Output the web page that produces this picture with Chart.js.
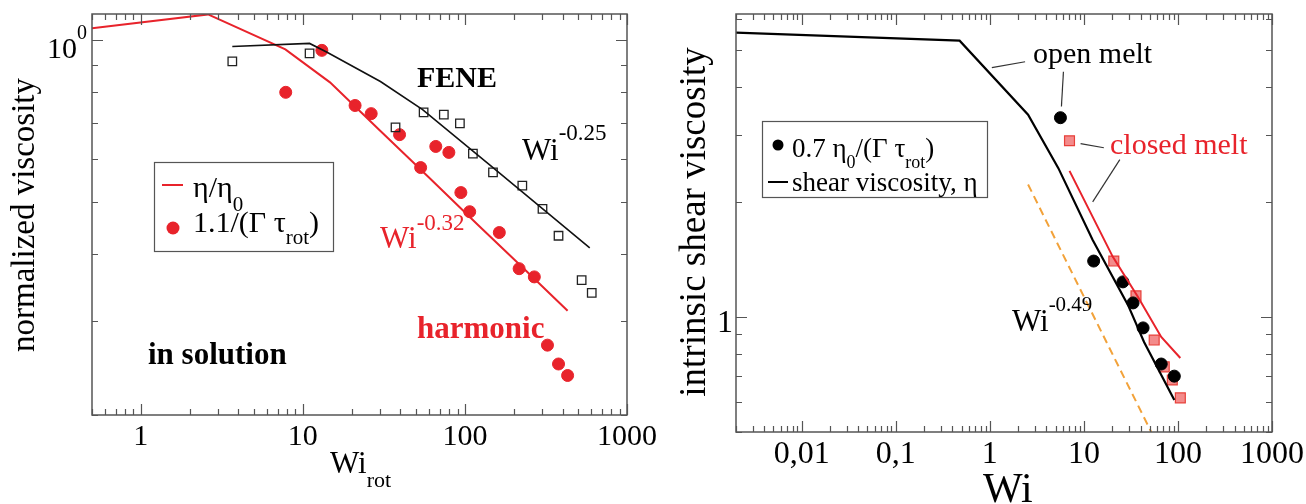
<!DOCTYPE html>
<html>
<head>
<meta charset="utf-8">
<title>viscosity vs Wi</title>
<script src="https://cdn.jsdelivr.net/npm/chart.js@4/dist/chart.umd.min.js"></script>
<style>
  body { margin: 0; background: #fff; }
  canvas { position: absolute; top: 0; }
  #left { left: 0; }
  #right { left: 653px; }
</style>
</head>
<body>
<canvas id="left" width="700" height="504"></canvas>
<canvas id="right" width="653" height="504"></canvas>
<script>
// ---- left panel: polymers in solution ----
const solX = [0.5, 2.6, 7.8, 14.7, 30, 60, 120, 240, 430];
const solEta = [1.053, 1.118, 0.962, 0.835, 0.678, 0.555, 0.453, 0.371, 0.313];

const harmX = [7.84, 13.1, 21.0, 26.4, 39.5, 53.3, 66.1, 79.6, 94.4, 107, 163, 216, 268, 323, 378, 430];
const harmY = [0.80, 0.958, 0.756, 0.730, 0.667, 0.579, 0.634, 0.618, 0.520, 0.479, 0.438, 0.375, 0.362, 0.270, 0.249, 0.237];

const feneX = [3.67, 11.0, 37.3, 55.6, 74.1, 93.1, 112, 149, 226, 301, 378, 525, 606];
const feneY = [0.914, 0.946, 0.688, 0.734, 0.727, 0.700, 0.615, 0.567, 0.536, 0.485, 0.432, 0.357, 0.338];

const feneLineX = [3.67, 11.0, 14.1, 30.1, 54.8, 149, 589];
const feneLineY = [0.974, 0.987, 0.95, 0.838, 0.743, 0.579, 0.410];

const leftXTicks = [1, 10, 100, 1000];
const leftXLabels = ['1', '10', '100', '1000'];

// ---- right panel: melts ----
const meltX = [0.002, 0.477, 2.55, 5.35, 12.4, 29.4, 43.6, 91.5];
const meltEta = [5.54, 5.28, 3.38, 2.45, 1.59, 1.075, 0.86, 0.606];

const openX = [5.63, 12.7, 26.0, 33.3, 42.6, 66.4, 91.5];
const openY = [3.32, 1.40, 1.235, 1.088, 0.936, 0.753, 0.70];

const closedX = [7.03, 20.8, 35.8, 55.9, 71.5, 87.1, 106];
const closedY = [2.89, 1.40, 1.135, 0.87, 0.74, 0.684, 0.614];

const closedLineX = [7.03, 20.3, 37.6, 66.4, 106];
const closedLineY = [2.41, 1.436, 1.128, 0.886, 0.781];

const slopeX = [2.55, 52];
const slopeY = [2.22, 0.5];

const leaderOpenCurveX = [1.05, 2.37], leaderOpenCurveY = [4.49, 4.65];
const leaderOpenDotX = [5.77, 6.06], leaderOpenDotY = [3.55, 4.38];
const leaderClosedSqX = [9.22, 16.3], leaderClosedSqY = [2.84, 2.77];
const leaderClosedLineX = [12.4, 24.1], leaderClosedLineY = [2.0, 2.58];

const rightXTicks = [0.01, 0.1, 1, 10, 100, 1000];
const rightXLabels = ['0,01', '0,1', '1', '10', '100', '1000'];

const SERIF = '"Liberation Serif", "DejaVu Serif", serif';
const RED = '#e8232b';
const AXIS = '#555';

const pts = (xs, ys) => xs.map((x, i) => ({ x: x, y: ys[i] }));

function logTicks(min, max) {
  const out = [];
  for (let e = Math.floor(Math.log10(min)); e <= Math.ceil(Math.log10(max)); e++) {
    for (let m = 1; m <= 9; m++) {
      const v = m * Math.pow(10, e);
      if (v >= min * 0.999 && v <= max * 1.001) out.push({ v: v, major: m === 1 });
    }
  }
  return out;
}

// draw runs of text with sub/superscripts
function rich(ctx, x, y, runs, color) {
  ctx.fillStyle = color;
  ctx.textAlign = 'left';
  ctx.textBaseline = 'alphabetic';
  for (const r of runs) {
    ctx.font = (r.bold ? 'bold ' : '') + r.size + 'px ' + SERIF;
    ctx.fillText(r.t, x, y + (r.dy || 0));
    x += ctx.measureText(r.t).width;
  }
}

function vertTitle(ctx, text, x, y, size) {
  ctx.save();
  ctx.translate(x, y);
  ctx.rotate(-Math.PI / 2);
  ctx.font = size + 'px ' + SERIF;
  ctx.fillStyle = '#000';
  ctx.textAlign = 'center';
  ctx.textBaseline = 'middle';
  ctx.fillText(text, 0, 0);
  ctx.restore();
}

function makeFrame(spec) {
  return {
    id: 'frame',
    afterDraw(chart) {
      const { ctx, chartArea: a, scales: { x, y } } = chart;
      ctx.save();
      ctx.strokeStyle = AXIS;
      ctx.lineWidth = 1.5;
      ctx.strokeRect(a.left, a.top, a.right - a.left, a.bottom - a.top);
      ctx.lineWidth = 1.2;
      ctx.beginPath();
      for (const t of logTicks(x.min, x.max)) {
        const px = Math.round(x.getPixelForValue(t.v)) + 0.5;
        const len = t.major ? 11 : 6;
        ctx.moveTo(px, a.bottom); ctx.lineTo(px, a.bottom - len);
        ctx.moveTo(px, a.top); ctx.lineTo(px, a.top + len);
      }
      for (const t of logTicks(y.min, y.max)) {
        const py = Math.round(y.getPixelForValue(t.v)) + 0.5;
        const len = t.major ? 11 : 6;
        ctx.moveTo(a.left, py); ctx.lineTo(a.left + len, py);
        ctx.moveTo(a.right, py); ctx.lineTo(a.right - len, py);
      }
      ctx.stroke();

      ctx.fillStyle = '#000';
      ctx.textAlign = 'center';
      ctx.textBaseline = 'alphabetic';
      ctx.font = spec.tickSize + 'px ' + SERIF;
      spec.xTicks.forEach((v, i) => {
        ctx.fillText(spec.xLabels[i], x.getPixelForValue(v), a.bottom + spec.tickGap);
      });
      spec.extras(ctx, chart);
      ctx.restore();
    }
  };
}

function legendBox(ctx, l, t, r, b) {
  ctx.fillStyle = '#fff';
  ctx.fillRect(l, t, r - l, b - t);
  ctx.strokeStyle = AXIS;
  ctx.lineWidth = 1.2;
  ctx.strokeRect(l + 0.5, t + 0.5, r - l, b - t);
}

const common = {
  responsive: false,
  animation: false,
  devicePixelRatio: 1,
  plugins: { legend: { display: false }, tooltip: { enabled: false } }
};

new Chart(document.getElementById('left'), {
  type: 'scatter',
  data: {
    datasets: [
      { data: pts(feneLineX, feneLineY), showLine: true, borderColor: '#111', borderWidth: 1.6, pointRadius: 0 },
      { data: pts(solX, solEta), showLine: true, borderColor: RED, borderWidth: 2, pointRadius: 0 },
      { data: pts(feneX, feneY), pointStyle: 'rect', pointRadius: 6, borderColor: '#222', borderWidth: 1.3, backgroundColor: 'rgba(0,0,0,0)' },
      { data: pts(harmX, harmY), pointRadius: 6, borderWidth: 1, backgroundColor: RED, borderColor: RED }
    ]
  },
  options: Object.assign({}, common, {
    layout: { padding: { left: 92, right: 73, top: 14, bottom: 89 } },
    scales: {
      x: { type: 'logarithmic', min: 0.5, max: 1000, display: false },
      y: { type: 'logarithmic', min: 0.2, max: 1.12, display: false }
    }
  }),
  plugins: [makeFrame({
    xTicks: leftXTicks, xLabels: leftXLabels, tickSize: 30, tickGap: 30,
    extras(ctx, chart) {
      const y1 = chart.scales.y.getPixelForValue(1);
      rich(ctx, 47, y1 + 18, [{ t: '10', size: 30 }, { t: '0', size: 20, dy: -19 }], '#000');
      vertTitle(ctx, 'normalized viscosity', 25, 215, 33);
      rich(ctx, 330, 473, [{ t: 'Wi', size: 31 }, { t: 'rot', size: 22, dy: 14 }], '#000');
      rich(ctx, 417, 87, [{ t: 'FENE', size: 30, bold: true }], '#000');
      rich(ctx, 522, 160, [{ t: 'Wi', size: 31 }, { t: '-0.25', size: 23, dy: -20 }], '#000');
      rich(ctx, 380, 248, [{ t: 'Wi', size: 31 }, { t: '-0.32', size: 23, dy: -18 }], RED);
      rich(ctx, 417, 338, [{ t: 'harmonic', size: 31, bold: true }], RED);
      rich(ctx, 148, 364, [{ t: 'in solution', size: 31, bold: true }], '#000');

      legendBox(ctx, 154, 162, 333, 251);
      ctx.strokeStyle = RED;
      ctx.lineWidth = 2;
      ctx.beginPath(); ctx.moveTo(162, 185); ctx.lineTo(183, 185); ctx.stroke();
      rich(ctx, 193, 197, [{ t: 'η/η', size: 30 }, { t: '0', size: 21, dy: 14 }], '#000');
      ctx.fillStyle = RED;
      ctx.beginPath(); ctx.arc(173, 228, 6.5, 0, Math.PI * 2); ctx.fill();
      rich(ctx, 193, 232, [{ t: '1.1/(Γ τ', size: 30 }, { t: 'rot', size: 21, dy: 12 }, { t: ')', size: 30 }], '#000');
    }
  })]
});

new Chart(document.getElementById('right'), {
  type: 'scatter',
  data: {
    datasets: [
      { data: pts(slopeX, slopeY), showLine: true, borderColor: '#f2a23a', borderWidth: 2, borderDash: [8, 5], pointRadius: 0 },
      { data: pts(leaderOpenCurveX, leaderOpenCurveY), showLine: true, borderColor: '#333', borderWidth: 1.2, pointRadius: 0 },
      { data: pts(leaderOpenDotX, leaderOpenDotY), showLine: true, borderColor: '#333', borderWidth: 1.2, pointRadius: 0 },
      { data: pts(leaderClosedSqX, leaderClosedSqY), showLine: true, borderColor: '#333', borderWidth: 1.2, pointRadius: 0 },
      { data: pts(leaderClosedLineX, leaderClosedLineY), showLine: true, borderColor: '#333', borderWidth: 1.2, pointRadius: 0 },
      { data: pts(meltX, meltEta), showLine: true, borderColor: '#000', borderWidth: 2.2, pointRadius: 0 },
      { data: pts(closedLineX, closedLineY), showLine: true, borderColor: RED, borderWidth: 2, pointRadius: 0 },
      { data: pts(openX, openY), pointRadius: 6, borderWidth: 1, backgroundColor: '#000', borderColor: '#000' },
      { data: pts(closedX, closedY), pointStyle: 'rect', pointRadius: 7, borderWidth: 1.2, backgroundColor: 'rgba(240,110,110,0.8)', borderColor: '#e8403a' }
    ]
  },
  options: Object.assign({}, common, {
    layout: { padding: { left: 83, right: 34, top: 14, bottom: 72 } },
    scales: {
      x: { type: 'logarithmic', min: 0.002, max: 1000, display: false },
      y: { type: 'logarithmic', min: 0.5, max: 6.2, display: false }
    }
  }),
  plugins: [makeFrame({
    xTicks: rightXTicks, xLabels: rightXLabels, tickSize: 32, tickGap: 31,
    extras(ctx, chart) {
      const y1 = chart.scales.y.getPixelForValue(1);
      ctx.font = '32px ' + SERIF;
      ctx.fillStyle = '#000';
      ctx.textAlign = 'right';
      ctx.fillText('1', 80, y1 + 15);
      vertTitle(ctx, 'intrinsic shear viscosity', 42, 222, 37);
      rich(ctx, 330, 502, [{ t: 'Wi', size: 42 }], '#000');
      rich(ctx, 380, 63, [{ t: 'open melt', size: 30 }], '#000');
      rich(ctx, 457, 154, [{ t: 'closed melt', size: 30 }], RED);
      rich(ctx, 359, 331, [{ t: 'Wi', size: 31 }, { t: '-0.49', size: 21, dy: -20 }], '#000');

      legendBox(ctx, 109, 121, 334, 197);
      ctx.fillStyle = '#000';
      ctx.beginPath(); ctx.arc(125, 145, 5.5, 0, Math.PI * 2); ctx.fill();
      rich(ctx, 139, 157, [{ t: '0.7 η', size: 27 }, { t: '0', size: 18, dy: 11 }, { t: '/(Γ τ', size: 27 }, { t: 'rot', size: 18, dy: 11 }, { t: ')', size: 27 }], '#000');
      ctx.strokeStyle = '#000';
      ctx.lineWidth = 2;
      ctx.beginPath(); ctx.moveTo(115, 182); ctx.lineTo(135, 182); ctx.stroke();
      rich(ctx, 139, 191, [{ t: 'shear viscosity, η', size: 27 }], '#000');
    }
  })]
});
</script>
</body>
</html>
